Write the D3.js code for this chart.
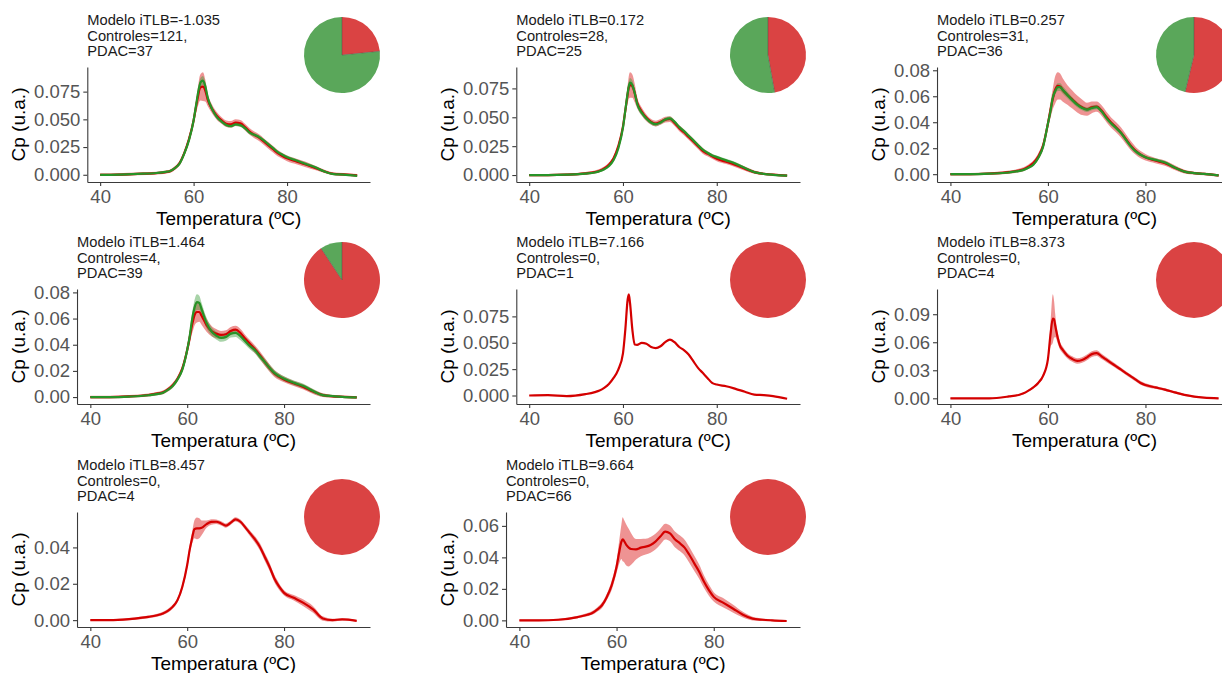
<!DOCTYPE html>
<html>
<head>
<meta charset="utf-8">
<script src="https://cdn.jsdelivr.net/npm/d3@7"></script>
<style>
  body { margin: 0; background: #fff; }
  svg text { font-family: Arial, "Liberation Sans", sans-serif; }
</style>
</head>
<body>
<svg id="chart" width="1222" height="673"></svg>
<script>
// Temperature grid (ºC) shared by every curve
const temps = [40, 44, 48, 52, 54, 55, 56, 57, 58, 59, 60, 60.5, 61, 61.25, 61.5, 62, 62.5, 63, 64, 65,
               66, 67, 68, 69, 70, 71, 72, 73, 74, 75, 76, 77, 78, 79, 80, 82, 84, 86, 88, 90, 92, 95];

// One entry per model group
const itlb = [-1.035, 0.172, 0.257, 1.464, 7.166, 8.373, 8.457, 9.664];
const controles = [121, 28, 31, 4, 0, 0, 0, 0];
const pdac = [37, 25, 36, 39, 1, 4, 4, 66];

// Y-axis tick labels for each group
const yTickLabels = [
  ["0.000", "0.025", "0.050", "0.075"],
  ["0.000", "0.025", "0.050", "0.075"],
  ["0.00", "0.02", "0.04", "0.06", "0.08"],
  ["0.00", "0.02", "0.04", "0.06", "0.08"],
  ["0.000", "0.025", "0.050", "0.075"],
  ["0.00", "0.03", "0.06", "0.09"],
  ["0.00", "0.02", "0.04"],
  ["0.00", "0.02", "0.04", "0.06"]
];
const xTickValues = [40, 60, 80];

// Mean Cp curves and ribbon half-widths (Controles = green, PDAC = red)
const g1Ctrl   = [0, 0.0002, 0.0008, 0.0016, 0.0026, 0.0035, 0.006, 0.010, 0.019, 0.031, 0.049, 0.062, 0.075, 0.080, 0.0835, 0.085, 0.080, 0.070, 0.059, 0.052,
                  0.048, 0.045, 0.044, 0.0455, 0.0448, 0.042, 0.038, 0.036, 0.034, 0.031, 0.0275, 0.024, 0.0205, 0.018, 0.0158, 0.0128, 0.0098, 0.0068, 0.003, 0.0006, 0.0002, -0.001];
const g1CtrlSe = [0.0008, 0.0008, 0.0008, 0.0008, 0.0008, 0.0009, 0.001, 0.0012, 0.0015, 0.002, 0.0025, 0.003, 0.0035, 0.004, 0.004, 0.004, 0.0035, 0.003, 0.0025, 0.002,
                  0.0018, 0.0016, 0.0016, 0.0016, 0.0016, 0.0016, 0.0016, 0.0016, 0.0016, 0.0016, 0.0016, 0.0016, 0.0015, 0.0015, 0.0015, 0.0015, 0.0015, 0.0013, 0.001, 0.0008, 0.0008, 0.0008];
const g1Pdac   = [0, 0.0002, 0.0008, 0.0015, 0.0024, 0.0033, 0.006, 0.0105, 0.0195, 0.032, 0.049, 0.061, 0.072, 0.077, 0.079, 0.0795, 0.076, 0.068, 0.059, 0.053,
                  0.049, 0.046, 0.0455, 0.047, 0.0465, 0.043, 0.039, 0.036, 0.0335, 0.030, 0.0265, 0.023, 0.0195, 0.017, 0.0148, 0.012, 0.0092, 0.0062, 0.003, 0.0008, 0.0003, -0.0005];
const g1PdacSe = [0.0012, 0.0012, 0.0012, 0.0013, 0.0014, 0.0015, 0.0017, 0.002, 0.0025, 0.003, 0.004, 0.006, 0.009, 0.011, 0.012, 0.013, 0.01, 0.006, 0.004, 0.0035,
                  0.003, 0.003, 0.003, 0.003, 0.003, 0.003, 0.003, 0.003, 0.003, 0.003, 0.003, 0.003, 0.0028, 0.0026, 0.0025, 0.0025, 0.0025, 0.002, 0.0015, 0.0012, 0.0012, 0.0012];

const g2Ctrl   = [0, 0, 0.0003, 0.0012, 0.0022, 0.0033, 0.005, 0.0078, 0.013, 0.023, 0.041, 0.056, 0.071, 0.077, 0.080, 0.078, 0.071, 0.062, 0.054, 0.049,
                  0.0455, 0.044, 0.0455, 0.048, 0.049, 0.046, 0.0415, 0.038, 0.034, 0.030, 0.0258, 0.022, 0.0193, 0.017, 0.0155, 0.0127, 0.0098, 0.006, 0.0025, 0.001, 0.0002, -0.0005];
const g2CtrlSe = [0.0008, 0.0008, 0.0008, 0.0008, 0.0009, 0.0009, 0.001, 0.0012, 0.0014, 0.0018, 0.0024, 0.003, 0.0035, 0.004, 0.004, 0.0038, 0.0033, 0.0028, 0.0024, 0.002,
                  0.0018, 0.0017, 0.0017, 0.0017, 0.0017, 0.0017, 0.0016, 0.0016, 0.0016, 0.0016, 0.0016, 0.0015, 0.0015, 0.0014, 0.0014, 0.0014, 0.0014, 0.0012, 0.001, 0.0008, 0.0008, 0.0008];
const g2Pdac   = [0, 0, 0.0004, 0.0015, 0.0026, 0.0038, 0.0058, 0.009, 0.0145, 0.025, 0.042, 0.056, 0.070, 0.076, 0.078, 0.077, 0.071, 0.063, 0.055, 0.0495,
                  0.046, 0.0445, 0.046, 0.048, 0.0485, 0.045, 0.0405, 0.037, 0.033, 0.029, 0.025, 0.021, 0.0185, 0.0162, 0.014, 0.0115, 0.0088, 0.0055, 0.0025, 0.001, 0.0003, -0.0005];
const g2PdacSe = [0.001, 0.001, 0.001, 0.0012, 0.0013, 0.0014, 0.0015, 0.0018, 0.002, 0.0025, 0.0035, 0.005, 0.008, 0.01, 0.011, 0.01, 0.008, 0.005, 0.0035, 0.003,
                  0.0025, 0.0025, 0.0025, 0.0025, 0.0025, 0.0025, 0.0025, 0.0025, 0.0025, 0.0025, 0.0025, 0.0025, 0.0022, 0.002, 0.002, 0.002, 0.002, 0.0018, 0.0014, 0.001, 0.001, 0.001];

const g3Ctrl   = [0, 0, 0.0004, 0.0013, 0.0024, 0.0033, 0.005, 0.0072, 0.0124, 0.021, 0.039, 0.048, 0.059, 0.062, 0.064, 0.067, 0.067, 0.065, 0.061, 0.057,
                  0.0535, 0.051, 0.0497, 0.051, 0.0517, 0.0484, 0.0432, 0.039, 0.0355, 0.0317, 0.0265, 0.0214, 0.0175, 0.015, 0.0131, 0.011, 0.009, 0.0051, 0.002, 0.0008, 0.0002, -0.001];
const g3CtrlSe = [0.0008, 0.0008, 0.0008, 0.0008, 0.0008, 0.0009, 0.001, 0.0011, 0.0013, 0.0016, 0.002, 0.0025, 0.0028, 0.003, 0.003, 0.003, 0.003, 0.0028, 0.0025, 0.0022,
                  0.002, 0.0018, 0.0018, 0.0018, 0.0018, 0.0018, 0.0018, 0.0018, 0.0018, 0.0018, 0.0017, 0.0016, 0.0015, 0.0014, 0.0013, 0.0012, 0.0012, 0.0011, 0.001, 0.0008, 0.0008, 0.0008];
const g3Pdac   = [0, 0, 0.0005, 0.0016, 0.0028, 0.0038, 0.0058, 0.0085, 0.0135, 0.022, 0.039, 0.049, 0.058, 0.062, 0.065, 0.068, 0.0675, 0.065, 0.061, 0.0575,
                  0.054, 0.0515, 0.050, 0.0515, 0.052, 0.049, 0.044, 0.0395, 0.036, 0.032, 0.027, 0.022, 0.018, 0.015, 0.013, 0.0105, 0.0085, 0.005, 0.002, 0.0008, 0.0002, -0.001];
const g3PdacSe = [0.001, 0.001, 0.001, 0.0012, 0.0014, 0.0015, 0.0017, 0.002, 0.0025, 0.003, 0.004, 0.006, 0.008, 0.0095, 0.0105, 0.0105, 0.01, 0.009, 0.0075, 0.007,
                  0.0065, 0.006, 0.005, 0.0045, 0.004, 0.004, 0.004, 0.004, 0.004, 0.004, 0.0038, 0.0035, 0.003, 0.0028, 0.0025, 0.002, 0.002, 0.0018, 0.0014, 0.001, 0.001, 0.001];

const g4Ctrl   = [0, 0, 0.0004, 0.0014, 0.0024, 0.0033, 0.0055, 0.0084, 0.0135, 0.021, 0.036, 0.046, 0.059, 0.064, 0.068, 0.0726, 0.072, 0.0668, 0.0566, 0.0503,
                  0.047, 0.0452, 0.046, 0.0485, 0.049, 0.0465, 0.0427, 0.0389, 0.0358, 0.0312, 0.0269, 0.0224, 0.0185, 0.016, 0.014, 0.0109, 0.0084, 0.0046, 0.0015, 0.0008, 0.0002, -0.0003];
const g4CtrlSe = [0.0008, 0.0008, 0.0008, 0.0009, 0.001, 0.0011, 0.0012, 0.0014, 0.0017, 0.002, 0.003, 0.004, 0.005, 0.0055, 0.006, 0.006, 0.0055, 0.005, 0.004, 0.0032,
                  0.003, 0.003, 0.003, 0.003, 0.003, 0.003, 0.0028, 0.0026, 0.0025, 0.0025, 0.0025, 0.0024, 0.0022, 0.002, 0.002, 0.0018, 0.0018, 0.0016, 0.0012, 0.001, 0.0009, 0.0008];
const g4Pdac   = [0, 0, 0.0005, 0.0016, 0.0028, 0.0036, 0.0058, 0.009, 0.014, 0.022, 0.036, 0.045, 0.055, 0.059, 0.0625, 0.065, 0.065, 0.062, 0.055, 0.0505,
                  0.0485, 0.0475, 0.048, 0.0505, 0.0515, 0.049, 0.0445, 0.0405, 0.0365, 0.032, 0.027, 0.0222, 0.018, 0.0155, 0.0135, 0.0105, 0.0078, 0.0042, 0.0015, 0.0006, 0.0002, -0.0003];
const g4PdacSe = [0.001, 0.001, 0.001, 0.0012, 0.0013, 0.0014, 0.0015, 0.0018, 0.002, 0.0025, 0.0035, 0.005, 0.0065, 0.0075, 0.008, 0.008, 0.0075, 0.007, 0.005, 0.004,
                  0.0035, 0.003, 0.003, 0.003, 0.003, 0.003, 0.003, 0.003, 0.003, 0.003, 0.003, 0.0028, 0.0026, 0.0024, 0.0022, 0.002, 0.002, 0.0018, 0.0014, 0.001, 0.001, 0.001];

// single PDAC sample: no ribbon
const g5Pdac   = [0, 0.0003, -0.0006, 0.0013, 0.0032, 0.0047, 0.0073, 0.011, 0.0167, 0.0246, 0.040, 0.0625, 0.091, 0.096, 0.0877, 0.0625, 0.0483, 0.048, 0.0499, 0.049,
                  0.046, 0.045, 0.0467, 0.0505, 0.053, 0.0505, 0.046, 0.043, 0.0388, 0.0325, 0.0262, 0.0215, 0.0167, 0.012, 0.0104, 0.0088, 0.0063, 0.0035, 0.0009, 0.0003, -0.0006, -0.0031];

const g6Pdac   = [0, 0, 0, 0.002, 0.0036, 0.0053, 0.0082, 0.0117, 0.0164, 0.024, 0.042, 0.067, 0.0854, 0.0847, 0.0776, 0.065, 0.056, 0.052, 0.0456, 0.042,
                  0.040, 0.041, 0.0438, 0.0473, 0.0484, 0.0449, 0.0413, 0.0377, 0.0342, 0.0306, 0.027, 0.0235, 0.020, 0.0164, 0.0142, 0.0117, 0.0093, 0.0064, 0.0036, 0.0018, 0.0007, 0];
const g6PdacSe = [0.0005, 0.0005, 0.0005, 0.0007, 0.0008, 0.0009, 0.001, 0.0012, 0.0015, 0.002, 0.003, 0.012, 0.026, 0.02, 0.012, 0.006, 0.004, 0.0035, 0.003, 0.003,
                  0.003, 0.003, 0.003, 0.003, 0.003, 0.0028, 0.0026, 0.0024, 0.0022, 0.002, 0.002, 0.002, 0.002, 0.002, 0.0018, 0.0016, 0.0015, 0.0013, 0.0011, 0.0009, 0.0007, 0.0005];

const g7Pdac   = [0, 0, 0.0006, 0.0018, 0.0028, 0.0037, 0.0051, 0.0073, 0.011, 0.0184, 0.0303, 0.0385, 0.045, 0.048, 0.050, 0.0505, 0.0505, 0.0508, 0.0528, 0.054,
                  0.0541, 0.0532, 0.052, 0.0536, 0.0554, 0.0541, 0.051, 0.0477, 0.0444, 0.0404, 0.0349, 0.0294, 0.0229, 0.0184, 0.015, 0.0123, 0.0095, 0.0059, 0.0009, 0, 0.0004, -0.0004];
const g7PdacSe = [0.0005, 0.0005, 0.0006, 0.0007, 0.0008, 0.0009, 0.001, 0.0011, 0.0013, 0.0016, 0.002, 0.0025, 0.003, 0.004, 0.005, 0.006, 0.0055, 0.004, 0.002, 0.0015,
                  0.0012, 0.0012, 0.0012, 0.0012, 0.0012, 0.0012, 0.0013, 0.0015, 0.0018, 0.002, 0.0022, 0.0022, 0.002, 0.0018, 0.0015, 0.0015, 0.0018, 0.0018, 0.0012, 0.0008, 0.0006, 0.0005];

const g8Pdac   = [0, 0, 0.0004, 0.0021, 0.0036, 0.0047, 0.0068, 0.0096, 0.0149, 0.0223, 0.034, 0.0426, 0.050, 0.0515, 0.0506, 0.0479, 0.0462, 0.0453, 0.0451, 0.0462,
                  0.0468, 0.0479, 0.050, 0.0532, 0.0564, 0.0553, 0.0515, 0.049, 0.0462, 0.0415, 0.0362, 0.0309, 0.0245, 0.0192, 0.0149, 0.0111, 0.0074, 0.0036, 0.0011, 0.0004, 0, -0.0004];
const g8PdacSe = [0.0005, 0.0005, 0.0006, 0.0008, 0.001, 0.0012, 0.0014, 0.0017, 0.002, 0.003, 0.004, 0.007, 0.011, 0.014, 0.0135, 0.013, 0.012, 0.01, 0.0065, 0.0055,
                  0.005, 0.005, 0.005, 0.005, 0.005, 0.005, 0.005, 0.005, 0.005, 0.005, 0.0048, 0.0045, 0.004, 0.0035, 0.003, 0.003, 0.0025, 0.0018, 0.0012, 0.0008, 0.0006, 0.0005];

// Series for each group, drawn in this order (PDAC first, Controles on top)
const groupSeries = [
  [{ kind: "pdac", mean: g1Pdac, se: g1PdacSe }, { kind: "ctrl", mean: g1Ctrl, se: g1CtrlSe }],
  [{ kind: "pdac", mean: g2Pdac, se: g2PdacSe }, { kind: "ctrl", mean: g2Ctrl, se: g2CtrlSe }],
  [{ kind: "pdac", mean: g3Pdac, se: g3PdacSe }, { kind: "ctrl", mean: g3Ctrl, se: g3CtrlSe }],
  [{ kind: "pdac", mean: g4Pdac, se: g4PdacSe }, { kind: "ctrl", mean: g4Ctrl, se: g4CtrlSe }],
  [{ kind: "pdac", mean: g5Pdac, se: null }],
  [{ kind: "pdac", mean: g6Pdac, se: g6PdacSe }],
  [{ kind: "pdac", mean: g7Pdac, se: g7PdacSe }],
  [{ kind: "pdac", mean: g8Pdac, se: g8PdacSe }]
];

// Styling
const lineColor = { pdac: "#D40000", ctrl: "#279327" };
const ribbonColor = { pdac: "#E03A3A", ctrl: "#3E9E3E" };
const ribbonOpacity = { pdac: 0.55, ctrl: 0.45 };
const pieColor = { pdac: "#DA4343", ctrl: "#5AA75A" };

// Grid layout
const cellLeft = [0, 429, 860];
const panelRight = [370, 800, 1232];
const rowTop = [0, 222, 445];
const pieCx = [342, 768, 1194];
const pieCy = [55, 280, 517];
const pieR = 38;
const tickFont = 18.5, titleFont = 19, headFont = 14.7;

const svg = d3.select("#chart");
svg.append("rect").attr("width", 1222).attr("height", 673).attr("fill", "#fff");

itlb.forEach((val, i) => {
  const row = Math.floor(i / 3), col = i % 3;
  const g = svg.append("g");
  const top = rowTop[row] + 67, bottom = rowTop[row] + 182;
  const labels = yTickLabels[i];

  // measure widest tick label to place the y axis
  const probe = g.append("text").attr("font-size", tickFont)
    .text(labels.reduce((a, b) => (b.length > a.length ? b : a)));
  const labW = probe.node().getComputedTextLength();
  probe.remove();
  const left = cellLeft[col] + 33 + labW + 8;
  const right = panelRight[col];

  const series = groupSeries[i];
  let lo = Infinity, hi = -Infinity;
  series.forEach(s => s.mean.forEach((m, k) => {
    const e = s.se ? s.se[k] : 0;
    lo = Math.min(lo, m - e); hi = Math.max(hi, m + e);
  }));
  const pad = (hi - lo) * 0.05;
  const tMin = d3.min(temps), tMax = d3.max(temps), tPad = (tMax - tMin) * 0.05;

  const x = d3.scaleLinear().domain([tMin - tPad, tMax + tPad]).range([left, right]);
  const y = d3.scaleLinear().domain([lo - pad, hi + pad]).range([bottom, top]);

  // ribbons
  series.forEach(s => {
    if (!s.se) return;
    const area = d3.area()
      .x((d, k) => x(temps[k]))
      .y0((d, k) => y(s.mean[k] - s.se[k]))
      .y1((d, k) => y(s.mean[k] + s.se[k]))
      .curve(d3.curveMonotoneX);
    g.append("path").attr("d", area(s.mean))
      .attr("fill", ribbonColor[s.kind]).attr("fill-opacity", ribbonOpacity[s.kind]);
  });
  // mean lines
  series.forEach(s => {
    const line = d3.line()
      .x((d, k) => x(temps[k]))
      .y(d => y(d))
      .curve(d3.curveMonotoneX);
    g.append("path").attr("d", line(s.mean))
      .attr("fill", "none").attr("stroke", lineColor[s.kind])
      .attr("stroke-width", 2.2).attr("stroke-linejoin", "round");
  });

  // axes
  const yAxis = d3.axisLeft(y).tickValues(labels.map(Number))
    .tickFormat((d, k) => labels[k]).tickSize(4).tickPadding(3).tickSizeOuter(0);
  const xAxis = d3.axisBottom(x).tickValues(xTickValues)
    .tickFormat(d3.format("d")).tickSize(4).tickPadding(4).tickSizeOuter(0);
  [
    g.append("g").attr("transform", `translate(${left},0)`).call(yAxis),
    g.append("g").attr("transform", `translate(0,${bottom})`).call(xAxis)
  ].forEach(ax => {
    ax.attr("font-family", null).attr("font-size", null);
    ax.select(".domain").attr("stroke", "#3a3a3a").attr("stroke-width", 1.1);
    ax.selectAll(".tick line").attr("stroke", "#3a3a3a").attr("stroke-width", 1.1);
    ax.selectAll(".tick text").attr("fill", "#555").attr("font-size", tickFont);
  });

  // axis titles
  g.append("text").attr("x", (left + Math.min(right, 1232)) / 2).attr("y", bottom + 43)
    .attr("text-anchor", "middle").attr("font-size", titleFont).attr("fill", "#000")
    .text("Temperatura (ºC)");
  g.append("text")
    .attr("transform", `translate(${cellLeft[col] + 25},${(top + bottom) / 2}) rotate(-90)`)
    .attr("text-anchor", "middle").attr("font-size", titleFont).attr("fill", "#000")
    .text("Cp (u.a.)");

  // heading
  const head = g.append("text").attr("font-size", headFont).attr("fill", "#1a1a1a");
  [`Modelo iTLB=${val.toFixed(3)}`, `Controles=${controles[i]},`, `PDAC=${pdac[i]}`]
    .forEach((t, k) => head.append("tspan").attr("x", left).attr("y", rowTop[row] + 25 + k * 15.5).text(t));

  // composition pie
  const pieData = [{ kind: "pdac", n: pdac[i] }, { kind: "ctrl", n: controles[i] }];
  const arcs = d3.pie().sort(null).value(d => d.n)(pieData);
  const arc = d3.arc().innerRadius(0).outerRadius(pieR);
  const pg = g.append("g").attr("transform", `translate(${pieCx[col]},${pieCy[row]})`);
  pg.selectAll("path").data(arcs).join("path")
    .attr("d", arc).attr("fill", d => pieColor[d.data.kind]);
  if (controles[i] > 0 && pdac[i] > 0) {
    arcs.forEach(a => {
      pg.append("line").attr("x1", 0).attr("y1", 0)
        .attr("x2", pieR * Math.sin(a.startAngle)).attr("y2", -pieR * Math.cos(a.startAngle))
        .attr("stroke", "#444").attr("stroke-width", 0.6).attr("stroke-opacity", 0.7);
    });
  }
});
</script>
</body>
</html>
